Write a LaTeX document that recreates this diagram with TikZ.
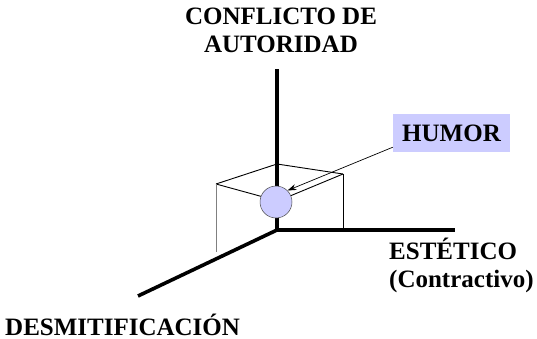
\documentclass[tikz,border=0pt]{standalone}
\usepackage{fontspec}
\setmainfont{Liberation Serif}
\usetikzlibrary{arrows.meta}
\definecolor{lav}{RGB}{204,204,255}
\tikzset{
  axis/.style={line width=3.6pt},
  boxedge/.style={line width=0.9pt},
  lbl/.style={font=\fontsize{25}{28}\selectfont\bfseries, inner sep=0pt},
}
\begin{document}
\begin{tikzpicture}[x=1pt,y=-1pt]
\useasboundingbox (0,0) rectangle (537,339);
% axes
\coordinate (O) at (277,230);
\coordinate (top) at (277,69);
\coordinate (right) at (455,230);
\coordinate (diag) at (138,296);
% box corners
\coordinate (bl) at (216,184);
\coordinate (bb) at (277,164);
\coordinate (br) at (343,174);
\coordinate (blb) at (216,252);
\coordinate (brb) at (343,230);
\coordinate (bf) at (278,201);
\draw[boxedge] (bl) -- (bb) -- (br);
\draw[boxedge] (bl) -- (bf) -- (br);
\draw[boxedge] (br) -- (brb);
\draw[boxedge, gray] (bl) -- (blb);
\draw[axis] (O) -- (top);
\draw[axis] (O) -- (right);
\draw[axis] (O) -- (diag);
\node[circle, draw=black!70, line width=0.5pt, fill=lav, minimum size=32pt, inner sep=0pt] (ball) at (276,202) {};
% label
\node[lbl, fill=lav, minimum width=117pt, minimum height=38pt] (humor) at (451.5,133) {HUMOR};
\coordinate (hstart) at ([yshift=5pt]humor.south west);
\draw[-{Stealth[length=9pt,width=6pt]}, line width=0.7pt] (hstart) -- (ball.north east);
\node[lbl, anchor=base, align=center] (conf) at (281,53) {CONFLICTO DE\\AUTORIDAD};
\node[lbl, anchor=base west, align=left] (est) at (389,287) {ESTÉTICO\\(Contractivo)};
\node[lbl, anchor=base west] (desm) at (5,335) {DESMITIFICACIÓN};
\end{tikzpicture}
\end{document}
